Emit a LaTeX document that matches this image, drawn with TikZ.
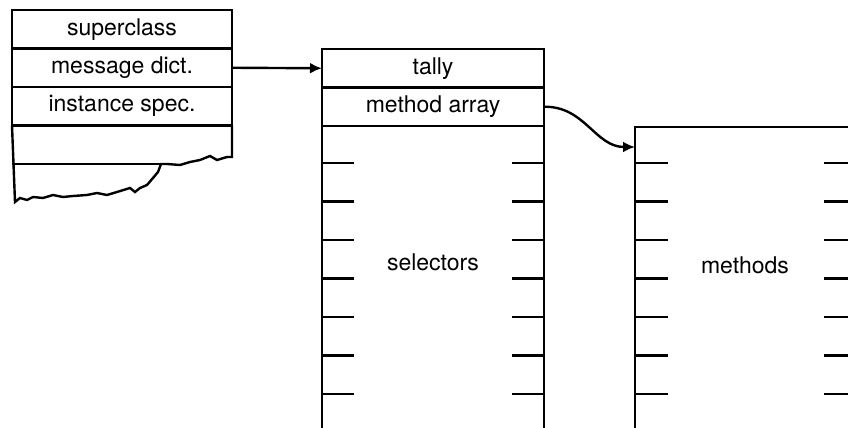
\documentclass[tikz,border=0pt]{standalone}
\usepackage{fontspec}
\setmainfont{TeX Gyre Heros}
\usetikzlibrary{arrows.meta,positioning}

\begin{document}
\begin{tikzpicture}[
    x=0.5pt, y=-0.5pt,
    font=\fontsize{11.5}{13}\selectfont,
    line width=1.2pt,
    cell/.style={draw, minimum width=110pt, minimum height=19.25pt, inner sep=0pt, outer sep=0pt, anchor=north west},
    column/.style={draw, minimum width=111pt, minimum height=170pt, inner sep=0pt, outer sep=0pt, anchor=north west}
  ]
    \clip (0,0) rectangle (848,428);
    \node[cell] (super) at (12,10) {superclass};
    \node[cell] (msg) at (super.south west) {message dict.};
    \node[cell] (inst) at (msg.south west) {instance spec.};
    \node[cell, draw=none] (blank) at (inst.south west) {};
    \coordinate (tear) at (161,164);
    \draw (inst.south west) -- (15,202) -- (20,198) -- (27,200) -- (33,197) -- (43,198) -- (53,195)
      -- (63,197) -- (73,196) -- (87,195) -- (97,193) -- (107,195) -- (117,192) -- (130,188)
      -- (135,192) -- (140,188) -- (147,185) -- (153,178) -- (158,172) -- (tear) -- (167,164)
      -- (180,165) -- (190,162) -- (200,160) -- (210,156) -- (217,160) -- (227,157) -- (232,157)
      -- (inst.south east);
    \draw (blank.south west) -- (blank.south west -| tear);
    \node[cell, minimum width=111pt] (tally) at (322,49) {tally};
    \node[cell, minimum width=111pt] (marr) at (tally.south west) {method array};
    \node[column] (sel) at (marr.south west) {};
    \node (sellabel) at (433,262) {selectors};
    \node[column, minimum height=160pt] (meth) at (635,127) {};
    \node (methlabel) at (745,265) {methods};
    \foreach \y in {163,201.5,240,278.5,317,355.5,394} {
      \draw (sel.west |- 0,\y) -- ++(32,0);
      \draw (sel.east |- 0,\y) -- ++(-32,0);
      \draw (meth.west |- 0,\y) -- ++(33,0);
      \draw (824,\y) -- (meth.east |- 0,\y);
    }
    \coordinate (mentry) at (635,147);
    \draw[-{Latex[length=6pt,width=5.5pt]}] (msg.east) -- (tally.west);
    \draw[-{Latex[length=6pt,width=5.5pt]}] (marr.east) .. controls (585,106) and (595,147) .. (mentry);
  \end{tikzpicture}
\end{document}
